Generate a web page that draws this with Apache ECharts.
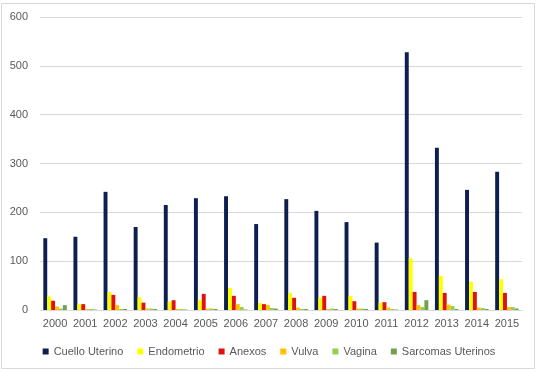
<!DOCTYPE html>
<html>
<head>
<meta charset="utf-8">
<script src="https://cdn.jsdelivr.net/npm/echarts@6/dist/echarts.min.js"></script>
<style>
  html, body { margin: 0; padding: 0; background: #fff; }
  #chart { width: 538px; height: 372px; }
</style>
</head>
<body>
<div id="chart"></div>
<script>
// datos
var years = ['2000', '2001', '2002', '2003', '2004', '2005', '2006', '2007',
             '2008', '2009', '2010', '2011', '2012', '2013', '2014', '2015'];
var cuelloUterino = [147, 150, 242, 170, 215, 229, 233, 176, 227, 203, 180, 138, 528, 332, 246, 283];
var endometrio    = [28, 12, 37, 26, 17, 21, 45, 14, 35, 25, 29, 15, 106, 70, 58, 63];
var anexos        = [19, 12, 31, 15, 20, 33, 29, 12, 25, 29, 18, 16, 37, 35, 37, 35];
var vulva         = [7, 2, 10, 3, 2, 3, 12, 10, 5, 2, 3, 5, 10, 11, 5, 6];
var vagina        = [3, 2, 2, 3, 2, 3, 6, 4, 2, 3, 3, 2, 6, 8, 4, 6];
var sarcomas      = [10, 1, 2, 2, 1, 2, 1, 3, 2, 2, 2, 1, 20, 2, 2, 3];
var yTicks = [0, 100, 200, 300, 400, 500, 600];

var seriesNames = ['Cuello Uterino', 'Endometrio', 'Anexos', 'Vulva', 'Vagina', 'Sarcomas Uterinos'];
var seriesData = [cuelloUterino, endometrio, anexos, vulva, vagina, sarcomas];
var colors = ['#0c1f4e', '#ffff00', '#e0110f', '#ffc000', '#92d050', '#70a050'];

var chart = echarts.init(document.getElementById('chart'));

var option = {
    color: colors,
    animation: false,
    textStyle: { fontFamily: 'Liberation Sans' },
    graphic: [{
        type: 'rect',
        shape: { x: 1.5, y: 3.5, width: 533, height: 365 },
        style: { fill: 'none', stroke: '#d9d9d9', lineWidth: 1 },
        silent: true
    }],
    grid: { left: 40, right: 16, top: 17, bottom: 62 },
    legend: {
        bottom: 10,
        left: 'center',
        itemWidth: 6,
        itemHeight: 6,
        itemGap: 14,
        icon: 'rect',
        textStyle: { color: '#595959', fontSize: 11 },
        data: seriesNames
    },
    xAxis: {
        type: 'category',
        data: years,
        axisTick: { show: false },
        axisLine: { lineStyle: { color: '#d9d9d9' } },
        axisLabel: { color: '#595959', fontSize: 11, margin: 8, interval: 0 }
    },
    yAxis: {
        type: 'value',
        min: yTicks[0],
        max: yTicks[yTicks.length - 1],
        interval: 100,
        axisLine: { show: false },
        axisTick: { show: false },
        splitLine: { lineStyle: { color: '#d9d9d9' } },
        axisLabel: { color: '#595959', fontSize: 11, margin: 12 }
    },
    series: seriesNames.map(function (name, i) {
        return {
            name: name,
            type: 'bar',
            data: seriesData[i],
            barGap: '0%',
            barCategoryGap: '22%'
        };
    })
};
chart.setOption(option);
</script>
</body>
</html>
